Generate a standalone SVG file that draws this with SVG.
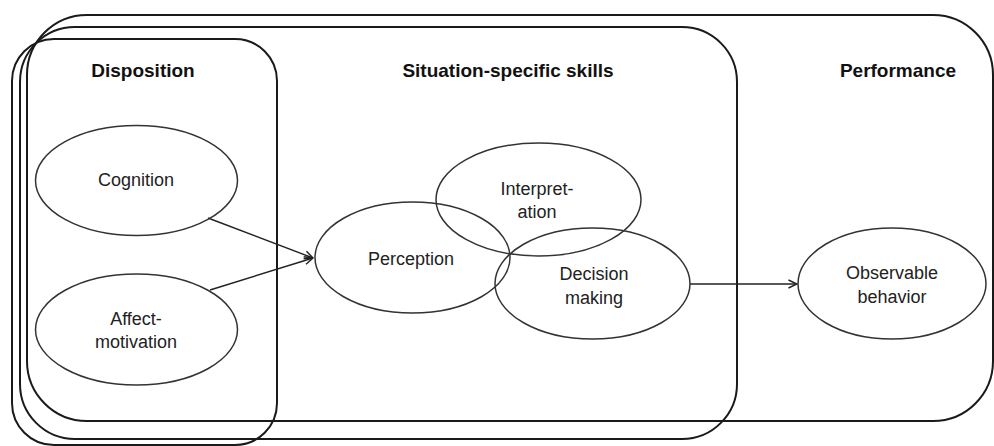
<svg xmlns="http://www.w3.org/2000/svg" width="994" height="446" viewBox="0 0 994 446">
<defs>
<style>
.box{fill:none;stroke:#1a1a1a;stroke-width:2}
.ell{fill:none;stroke:#333;stroke-width:1.5}
.head{font-family:"Liberation Sans",Arial,sans-serif;font-weight:bold;font-size:19px;fill:#111;text-anchor:middle}
.lbl{font-family:"Liberation Sans",Arial,sans-serif;font-size:18px;fill:#222;text-anchor:middle}
.conn{fill:none;stroke:#222;stroke-width:1.4}
</style>
<marker id="arr" viewBox="0 0 10 10" refX="9.5" refY="5" markerWidth="10" markerHeight="10" markerUnits="userSpaceOnUse" orient="auto">
<path d="M1,1 L9.5,5 L1,9" fill="none" stroke="#222" stroke-width="1.4"/>
</marker>
</defs>
<rect width="994" height="446" fill="#fff"/>
<g id="performance-box">
<rect class="box" x="27" y="15" width="966" height="406" rx="60" ry="60"/>
<text class="head" x="898" y="77">Performance</text>
</g>
<g id="situation-box">
<rect class="box" x="20" y="27" width="717" height="412" rx="55" ry="55"/>
<text class="head" x="508" y="77">Situation-specific skills</text>
</g>
<g id="disposition-box">
<rect class="box" x="12" y="39" width="265" height="406" rx="42" ry="42"/>
<text class="head" x="143" y="77">Disposition</text>
</g>
<g id="connectors">
<line class="conn" x1="208" y1="218" x2="313" y2="258" marker-end="url(#arr)"/>
<line class="conn" x1="210" y1="290" x2="313" y2="258" marker-end="url(#arr)"/>
<line class="conn" x1="690" y1="284" x2="797" y2="284" marker-end="url(#arr)"/>
</g>
<g id="cognition">
<ellipse class="ell" cx="136.5" cy="180.5" rx="101" ry="55"/>
<text class="lbl" x="136" y="186">Cognition</text>
</g>
<g id="affect-motivation">
<ellipse class="ell" cx="136.5" cy="329.5" rx="101" ry="55.5"/>
<text class="lbl" x="136" y="325">Affect-</text>
<text class="lbl" x="136" y="348">motivation</text>
</g>
<g id="perception">
<ellipse class="ell" cx="412.5" cy="257.5" rx="97.5" ry="55.5"/>
<text class="lbl" x="411" y="265">Perception</text>
</g>
<g id="interpretation">
<ellipse class="ell" cx="538.5" cy="199.5" rx="102.5" ry="56.5"/>
<text class="lbl" x="537" y="195">Interpret-</text>
<text class="lbl" x="537" y="218">ation</text>
</g>
<g id="decision-making">
<ellipse class="ell" cx="592.5" cy="283.5" rx="97.5" ry="55.5"/>
<text class="lbl" x="594" y="280">Decision</text>
<text class="lbl" x="594" y="304">making</text>
</g>
<g id="observable-behavior">
<ellipse class="ell" cx="892" cy="283.5" rx="94" ry="55.5"/>
<text class="lbl" x="892" y="279">Observable</text>
<text class="lbl" x="892" y="303">behavior</text>
</g>
</svg>
